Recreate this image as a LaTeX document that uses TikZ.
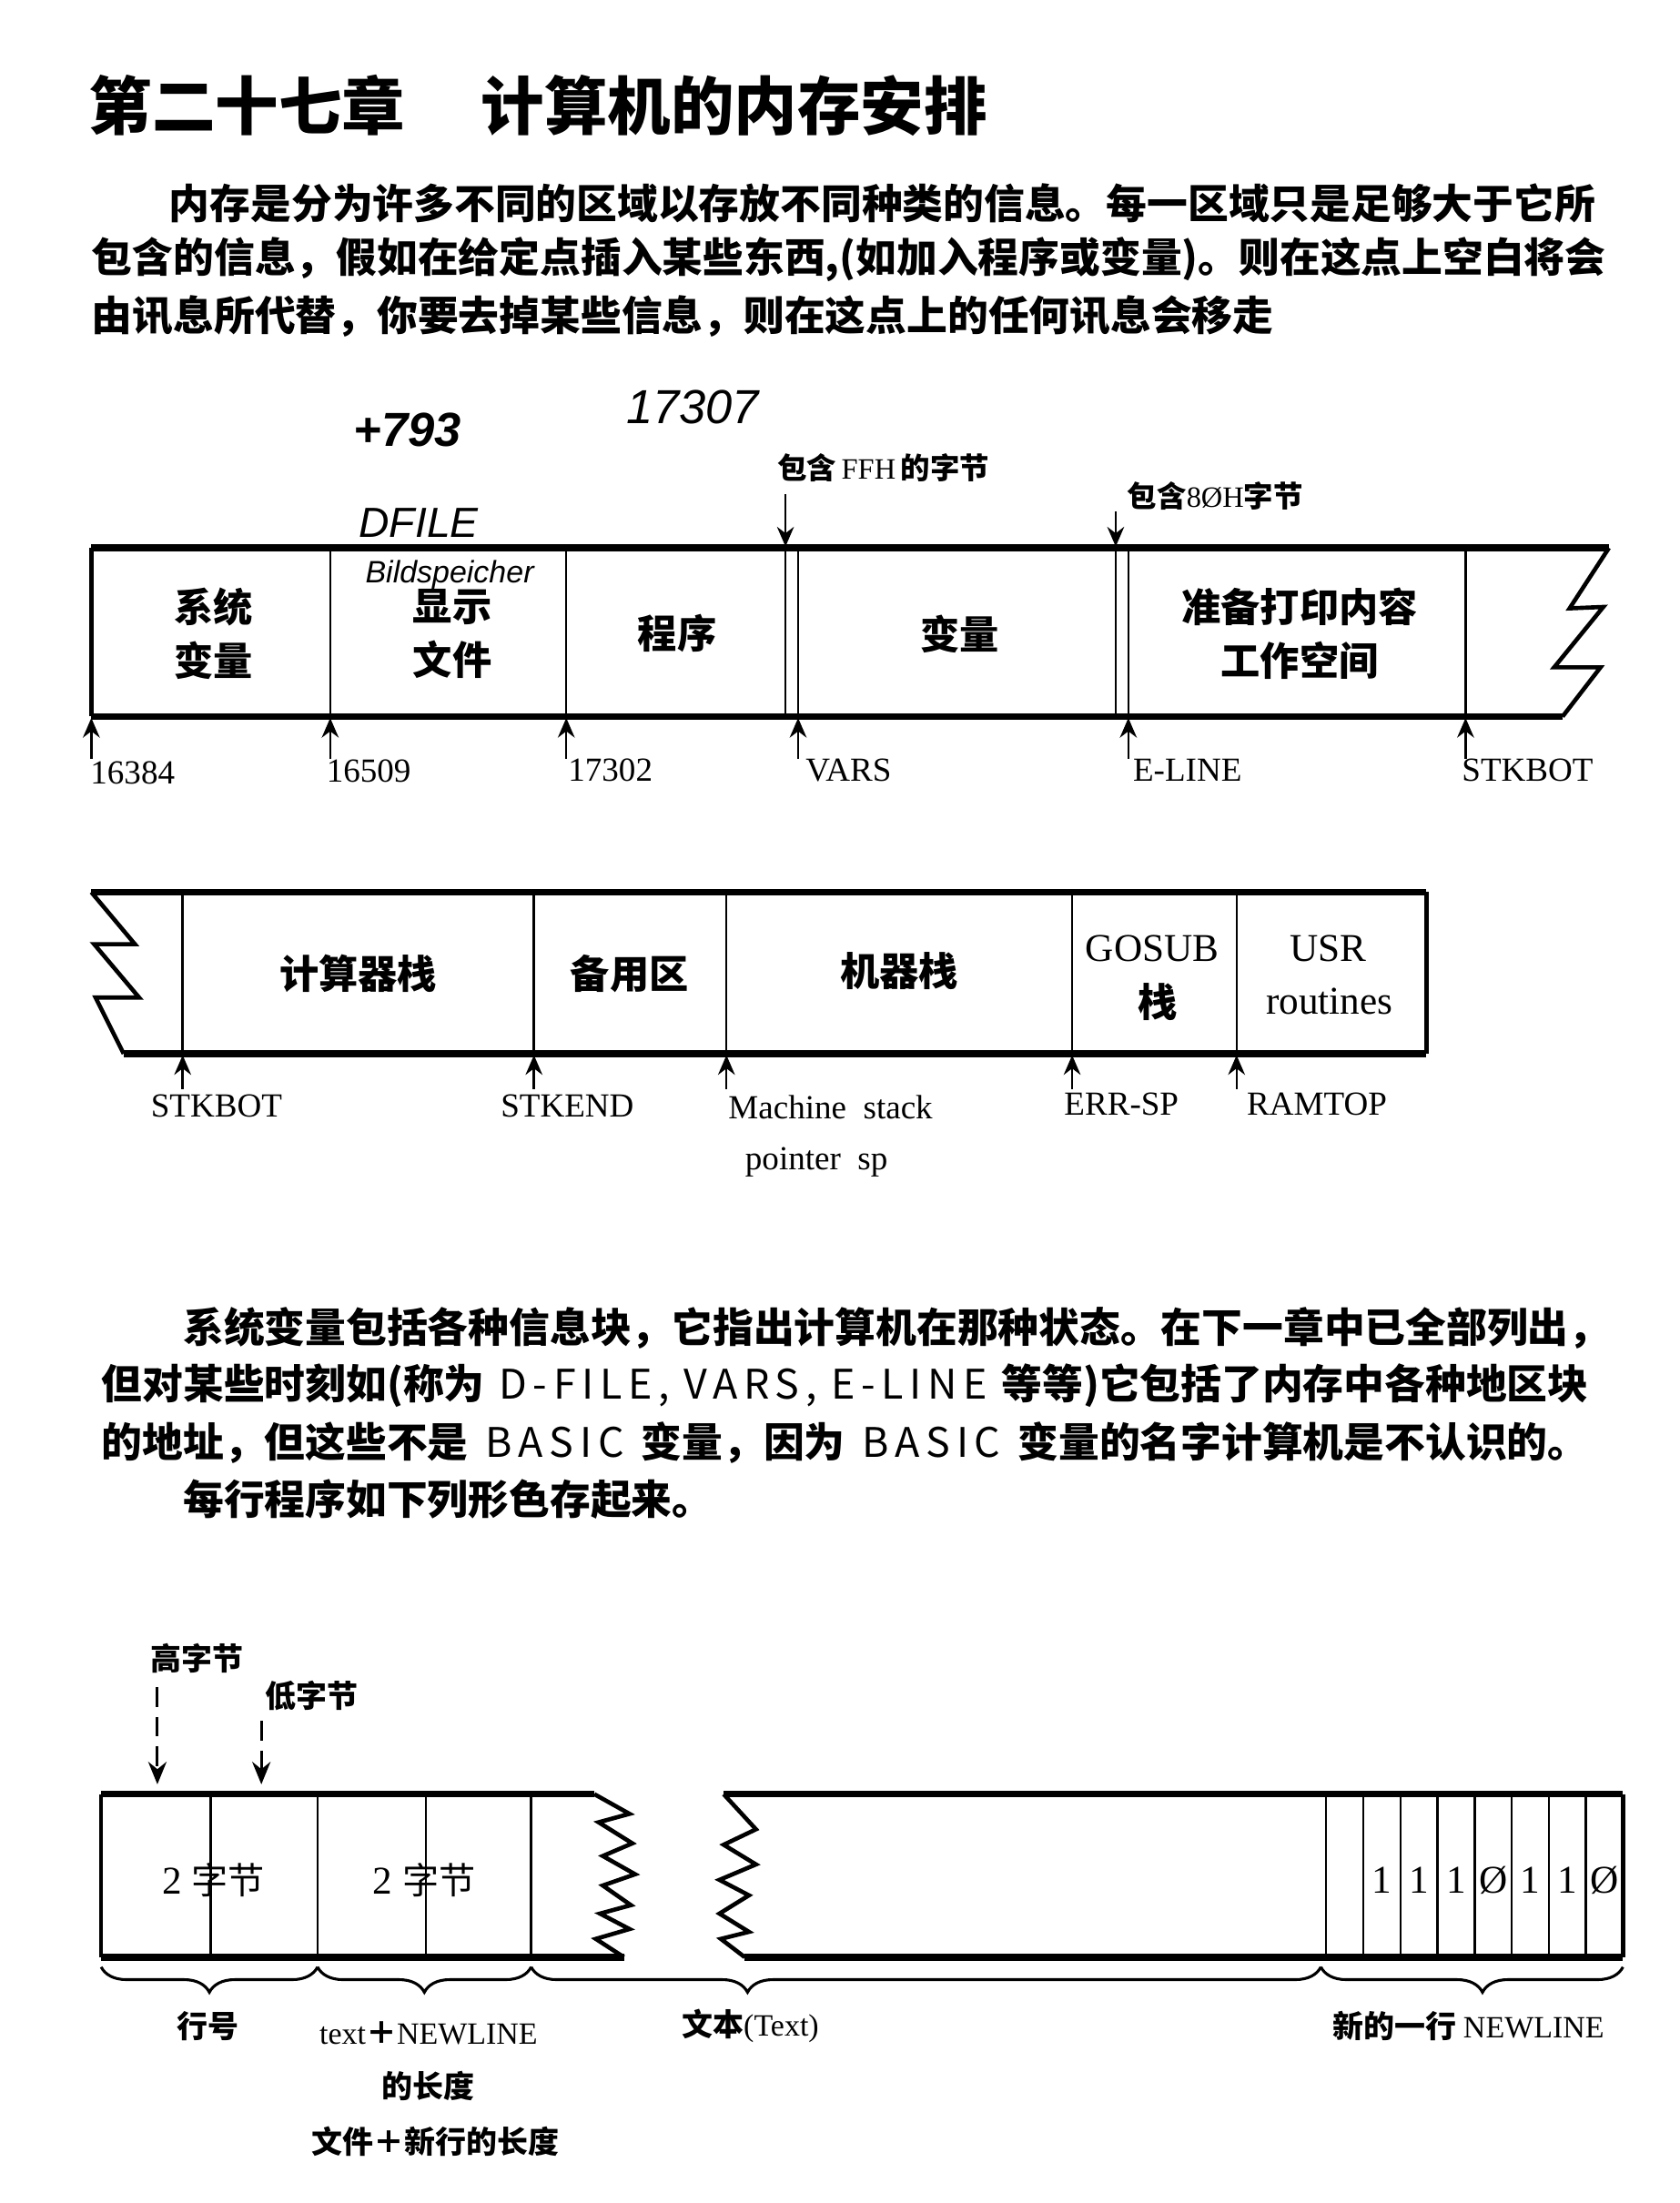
\documentclass[tikz,border=0pt]{standalone}
\usepackage{fontspec}
\setmainfont{Liberation Serif}
\newfontfamily\cjk{Noto Sans CJK SC}
\newfontfamily\handfont{Liberation Sans}
\usetikzlibrary{arrows.meta,decorations.pathreplacing}
\newcommand\lat[1]{{\normalfont #1}}
\newcommand\wide[1]{{\mdseries\addfontfeature{LetterSpace=15}#1}}

\begin{document}
\begin{tikzpicture}[x=0.5pt,y=-0.5pt,
    rim/.style={line width=2.4pt},
    rimside/.style={line width=1.5pt, line join=miter},
    divider/.style={line width=0.8pt},
    ptrarrow/.style={-{Stealth[length=7pt,width=6pt]}, line width=0.8pt},
    dashptr/.style={-{Stealth[length=8pt,width=6.5pt]}, line width=1pt, dash pattern=on 7pt off 3.5pt},
    bracedown/.style={decorate, decoration={brace,mirror,amplitude=9pt,aspect=#1}, line width=1pt},
    bracedown/.default=0.5,
    title/.style={anchor=west, inner sep=0pt, font=\cjk\bfseries\fontsize{22.5}{26}\selectfont},
    para/.style={anchor=west, inner sep=0pt, font=\cjk\bfseries\fontsize{14.5}{20}\selectfont},
    cell/.style={align=center, inner sep=0pt, font=\cjk\bfseries\fontsize{14}{19}\selectfont},
    latcell/.style={align=center, inner sep=0pt, font=\fontsize{14}{19}\selectfont},
    addr/.style={anchor=west, inner sep=0pt, font=\fontsize{12}{14}\selectfont},
    note/.style={anchor=west, inner sep=0pt, font=\cjk\bfseries\fontsize{10.5}{12}\selectfont},
    sublabel/.style={inner sep=0pt, font=\cjk\bfseries\fontsize{11}{13}\selectfont},
    bit/.style={inner sep=0pt, font=\fontsize{14}{16}\selectfont},
    hand/.style={inner sep=0pt, font=\handfont\itshape\fontsize{15}{17}\selectfont}
]
\fill[white] (0,0) rectangle (1195,1568);
\useasboundingbox (0,0) rectangle (1195,1568);

% Heading and first paragraph
\node[title] (head) at (63,75) {第二十七章\hspace{27pt}计算机的内存安排};
\node[para] (p1a) at (120,145) {内存是分为许多不同的区域以存放不同种类的信息。每一区域只是足够大于它所};
\node[para] (p1b) at (65,185) {包含的信息，假如在给定点插入某些东西,(如加入程序或变量)。则在这点上空白将会};
\node[para] (p1c) at (65,225) {由讯息所代替，你要去掉某些信息，则在这点上的任何讯息会移走};

% Handwritten notes
\node[hand, font=\handfont\bfseries\itshape\fontsize{17}{19}\selectfont] (h793) at (290,306) {+793};
\node[hand, font=\handfont\itshape\fontsize{17}{19}\selectfont] (h17307) at (493,290) {17307};
\node[hand] (hdfile) at (298,372) {DFILE};
\node[hand, font=\handfont\itshape\fontsize{11}{13}\selectfont] (hbild) at (320,409) {Bildspeicher};

% Memory map, part 1
\draw[rimside] (65,390) -- (65,510);
\draw[rimside] (1145,390) -- (1117,433) -- (1141,432) -- (1106,475) -- (1139,475) -- (1112,510);
\draw[rim] (65,390) -- (1145,390);
\draw[rim] (65,510) -- (1112,510);
\foreach \x in {235,403,559,568,794,803,1043}
  \draw[divider] (\x,390) -- (\x,510);

\node[cell] (sysvar) at (152,451) {系统\\变量};
\node[cell] (dfile) at (322,451) {显示\\文件};
\node[cell] (prog) at (482,451) {程序};
\node[cell] (vars) at (683,451) {变量};
\node[cell] (eline) at (925,451) {准备打印内容\\工作空间};

\node[note] (ffh) at (553,333) {包含\,\lat{FFH}\,的字节};
\node[note] (eightyh) at (802,353) {包含\lat{8ØH}字节};
\coordinate (ffhtail) at (559,352);
\coordinate (ffhhead) at (559,389);
\coordinate (eightytail) at (794,364);
\coordinate (eightyhead) at (794,389);
\draw[ptrarrow] (ffhtail) -- (ffhhead);
\draw[ptrarrow] (eightytail) -- (eightyhead);

\foreach \x/\n in {65/a,235/b,403/c,568/d,803/e,1043/f} {
  \coordinate (tail-\n) at (\x,540);
  \coordinate (head-\n) at (\x,511);
  \draw[ptrarrow] (tail-\n) -- (head-\n);
}
\node[addr] (l16384) at (64,550) {16384};
\node[addr] (l16509) at (232,549) {16509};
\node[addr] (l17302) at (404,548) {17302};
\node[addr] (lvars) at (573,548) {VARS};
\node[addr] (leline) at (806,548) {E-LINE};
\node[addr] (lstkbot) at (1040,548) {STKBOT};

% Memory map, part 2
\draw[rimside] (65,635) -- (96,672) -- (67,672) -- (99,710) -- (68,710) -- (88,750);
\draw[rimside] (1015,635) -- (1015,750);
\draw[rim] (65,635) -- (1015,635);
\draw[rim] (88,750) -- (1015,750);
\foreach \x in {130,380,517,763,880}
  \draw[divider] (\x,635) -- (\x,750);

\node[cell] (calc) at (255,693) {计算器栈};
\node[cell] (spare) at (448,693) {备用区};
\node[cell] (mstack) at (640,691) {机器栈};
\node[latcell] (gosub) at (820,675) {GOSUB};
\node[cell] (gosubz) at (824,713) {栈};
\node[latcell] (usr) at (945,675) {USR};
\node[latcell] (usrr) at (946,713) {routines};

\foreach \x/\n in {130/g,380/h,517/i,763/j,880/k} {
  \coordinate (tail-\n) at (\x,775);
  \coordinate (head-\n) at (\x,751);
  \draw[ptrarrow] (tail-\n) -- (head-\n);
}
\node[addr] (l2stkbot) at (107,787) {STKBOT};
\node[addr] (lstkend) at (356,787) {STKEND};
\node[addr] (lmsp) at (518,788) {Machine\ \ stack};
\node[addr] (lmsp2) at (530,827) {pointer\ \ sp};
\node[addr] (lerrsp) at (757,786) {ERR-SP};
\node[addr] (lramtop) at (887,786) {RAMTOP};

% Second paragraph
\node[para] (p2a) at (130,945) {系统变量包括各种信息块，它指出计算机在那种状态。在下一章中已全部列出，};
\node[para] (p2b) at (72,986) {\makebox[529pt][s]{但对某些时刻如(称为 \wide{D-FILE,} \wide{VARS,} \wide{E-LINE} 等等)它包括了内存中各种地区块}};
\node[para] (p2c) at (72,1027) {\makebox[529pt][s]{的地址，但这些不是 \wide{BASIC} 变量，因为 \wide{BASIC} 变量的名字计算机是不认识的。}};
\node[para] (p2d) at (130,1067) {每行程序如下列形色存起来。};

% Program line layout
\node[sublabel] (hibyte) at (140,1180) {高字节};
\node[sublabel] (lobyte) at (222,1207) {低字节};
\coordinate (hitail) at (112,1201);
\coordinate (hihead) at (112,1270);
\coordinate (lotail) at (186,1225);
\coordinate (lohead) at (186,1270);
\draw[dashptr] (hitail) -- (hihead);
\draw[dashptr] (lotail) -- (lohead);

\draw[rimside] (72,1277) -- (72,1393);
\draw[rimside] (423,1277) -- (448,1291) -- (426,1297) -- (450,1312) -- (429,1321) -- (452,1334)
  -- (429,1342) -- (449,1356) -- (427,1362) -- (448,1373) -- (424,1380) -- (444,1393);
\draw[rimside] (515,1277) -- (538,1302) -- (515,1313) -- (538,1327) -- (512,1338) -- (533,1349)
  -- (512,1362) -- (533,1375) -- (513,1380) -- (530,1393);
\draw[rimside] (1155,1277) -- (1155,1393);
\draw[rim] (72,1277) -- (423,1277);
\draw[rim] (72,1393) -- (444,1393);
\draw[rim] (515,1277) -- (1155,1277);
\draw[rim] (530,1393) -- (1155,1393);
\foreach \x in {150,226,303,378}
  \draw[divider] (\x,1277) -- (\x,1393);
\foreach \k in {0,...,7}
  \draw[divider] ({943.8+26.4*\k},1277) -- ({943.8+26.4*\k},1393);

\node[bit] (lnum) at (152,1338) {2 {\cjk\fontsize{13}{15}\selectfont 字节}};
\node[bit] (llen) at (302,1338) {2 {\cjk\fontsize{13}{15}\selectfont 字节}};
\foreach \k/\b in {1/1,2/1,3/1,4/Ø,5/1,6/1,7/Ø}
  \node[bit] (bit\k) at ({957+26.4*\k},1338) {\b};

\draw[bracedown] (72,1400) -- (226,1400);
\draw[bracedown] (226,1400) -- (378,1400);
\draw[bracedown=0.274] (378,1400) -- (940,1400);
\draw[bracedown=0.535] (940,1400) -- (1155,1400);

\node[sublabel] (lineno) at (148,1442) {行号};
\node[sublabel] (textlen) at (305,1447) {\lat{text}＋\lat{NEWLINE}};
\node[sublabel] (textlen2) at (305,1485) {的长度};
\node[sublabel] (textlen3) at (310,1524) {文件＋新行的长度};
\node[sublabel] (textlbl) at (534,1442) {文本\lat{(Text)}};
\node[sublabel] (newline) at (1045,1442) {新的一行 \lat{NEWLINE}};

\end{tikzpicture}
\end{document}
